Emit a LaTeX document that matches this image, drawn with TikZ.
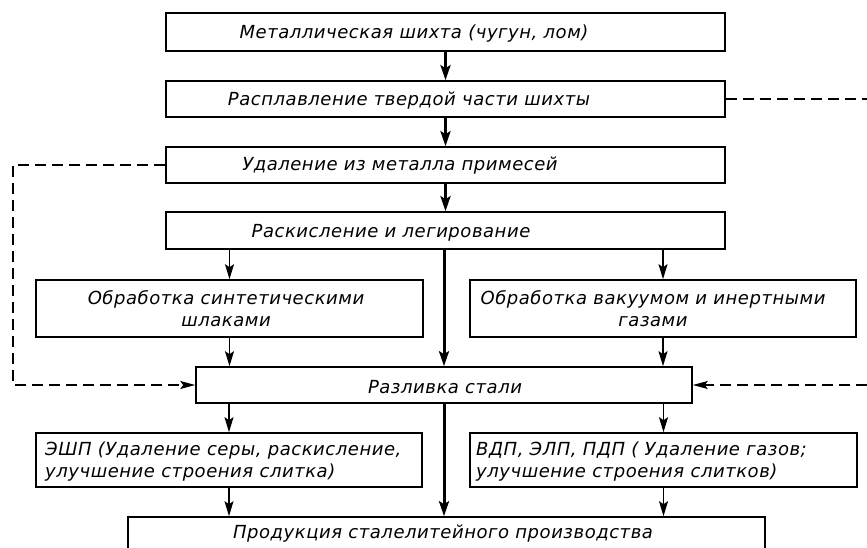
\documentclass[tikz,border=0pt]{standalone}
\usepackage{fontspec}
\setmainfont{DejaVu Sans}[LetterSpace=3]
\usetikzlibrary{arrows.meta}
\begin{document}
\begin{tikzpicture}[x=1pt,y=-1pt,
  box/.style={draw, line width=1.6pt, inner sep=0pt},
  lbl/.style={font=\itshape\fontsize{18}{22}\selectfont, inner sep=0pt},
  arr/.style={line width=1.4pt, -{Stealth[length=15pt,width=9pt,inset=3pt]}},
  mainarr/.style={line width=3pt, -{Stealth[length=15pt,width=10pt,inset=3pt]}},
  dsh/.style={line width=1.4pt, dash pattern=on 11pt off 6pt}
]
\useasboundingbox (0,0) rectangle (867,548);
\clip (0,0) rectangle (867,548);
% boxes
\node[box, minimum width=559pt, minimum height=38pt] (b1) at (445.5,32) {};
\node[box, minimum width=559pt, minimum height=36pt] (b2) at (445.5,99) {};
\node[box, minimum width=559pt, minimum height=36pt] (b3) at (445.5,165) {};
\node[box, minimum width=559pt, minimum height=37pt] (b4) at (445.5,230.5) {};
\node[box, minimum width=387pt, minimum height=57pt] (b5) at (229.5,308.5) {};
\node[box, minimum width=386pt, minimum height=57pt] (b6) at (663,308.5) {};
\node[box, minimum width=496pt, minimum height=36pt] (b7) at (444,385) {};
\node[box, minimum width=386pt, minimum height=54pt] (b8) at (229,460) {};
\node[box, minimum width=387pt, minimum height=54pt] (b9) at (663.5,460) {};
\node[box, minimum width=637pt, minimum height=63pt] (b10) at (446.5,548.5) {};
% labels
\node[lbl] (t1) at (414,34) {Металлическая шихта (чугун, лом)};
\node[lbl] (t2) at (409,101) {Расплавление твердой части шихты};
\node[lbl] (t3) at (400,166) {Удаление из металла примесей};
\node[lbl] (t4) at (391,233) {Раскисление и легирование};
\node[lbl, align=center] (t5) at (226,309) {Обработка синтетическими\\шлаками};
\node[lbl, align=center] (t6) at (653,309) {Обработка вакуумом и инертными\\газами};
\node[lbl] (t7) at (445,387) {Разливка стали};
\node[lbl, align=left, anchor=west] (t8) at (45,462) {ЭШП (Удаление серы, раскисление,\\улучшение строения слитка)};
\node[lbl, align=left, anchor=west] (t9) at (476,462) {ВДП, ЭЛП, ПДП ( Удаление газов;\\улучшение строения слитков)};
\node[lbl] (t10) at (443,534) {Продукция сталелитейного производства};
% main chain
\draw[mainarr] (b1.south) -- (b2.north);
\draw[mainarr] (b2.south) -- (b3.north);
\draw[mainarr] (b3.south) -- (b4.north);
\draw[mainarr] (b4.south -| b7.north) -- (b7.north);
\draw[mainarr] (b7.south) -- (b7.south |- b10.north);
% left branch
\draw[arr] (b4.south -| b5.north) -- (b5.north);
\draw[arr] (b5.south) -- (b5.south |- b7.north);
\draw[arr] (b7.south -| b8.north) -- (b8.north);
\draw[arr] (b8.south) -- (b8.south |- b10.north);
% right branch
\draw[arr] (b4.south -| b6.north) -- (b6.north);
\draw[arr] (b6.south) -- (b6.south |- b7.north);
\draw[arr] (b7.south -| b9.north) -- (b9.north);
\draw[arr] (b9.south) -- (b9.south |- b10.north);
% dashed
\coordinate (r1) at (867,99);
\coordinate (r2) at (867,385);
\coordinate (l1) at (13,385);
\draw[dsh] (b2.east) -- (r1);
\draw[dsh, -{Stealth[length=15pt,width=8pt,inset=3pt]}] (r2) -- (b7.east);
\draw[dsh, -{Stealth[length=15pt,width=8pt,inset=3pt]}] (b3.west) -| (l1) -- (b7.west);
\end{tikzpicture}
\end{document}
